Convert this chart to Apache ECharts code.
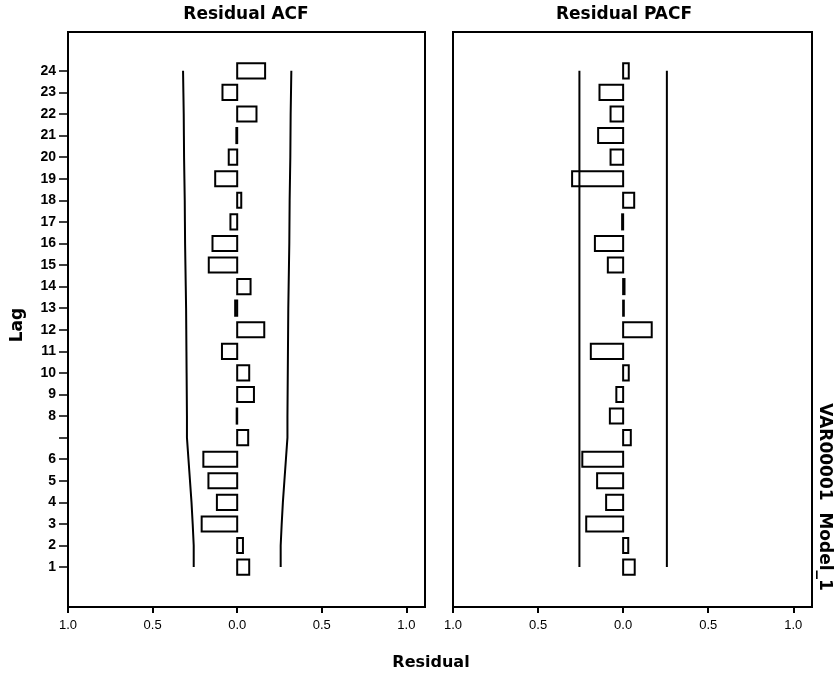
<!DOCTYPE html>
<html>
<head>
<meta charset="utf-8">
<script src="https://cdn.jsdelivr.net/npm/echarts@6/dist/echarts.min.js"></script>
<style>html,body{margin:0;padding:0;background:#fff}#c{width:838px;height:675px}</style>
</head>
<body>
<div id="c"></div>
<script>
// ---- data ----
const lags = [1,2,3,4,5,6,7,8,9,10,11,12,13,14,15,16,17,18,19,20,21,22,23,24];
const lagLabels = ['1','2','3','4','5','6','','8','9','10','11','12','13','14','15','16','17','18','19','20','21','22','23','24'];
const acf  = [0.071, 0.034, -0.21, -0.12, -0.17, -0.20, 0.065, -0.003, 0.099, 0.071, -0.09, 0.16, -0.012, 0.079, -0.168, -0.146, -0.04, 0.024, -0.13, -0.05, -0.005, 0.114, -0.087, 0.165];
const pacf = [0.068, 0.03, -0.217, -0.10, -0.153, -0.24, 0.045, -0.078, -0.04, 0.033, -0.19, 0.168, 0.004, 0.008, -0.09, -0.166, -0.006, 0.065, -0.30, -0.074, -0.147, -0.074, -0.139, 0.033];
const acfLimit  = [0.257, 0.257, 0.263, 0.270, 0.279, 0.288, 0.297, 0.297, 0.298, 0.299, 0.300, 0.301, 0.302, 0.304, 0.306, 0.308, 0.309, 0.310, 0.312, 0.314, 0.315, 0.316, 0.318, 0.320];
const pacfLimit = [0.257, 0.257, 0.257, 0.257, 0.257, 0.257, 0.257, 0.257, 0.257, 0.257, 0.257, 0.257, 0.257, 0.257, 0.257, 0.257, 0.257, 0.257, 0.257, 0.257, 0.257, 0.257, 0.257, 0.257];
const xTicks = [-1, -0.5, 0, 0.5, 1];
const xTickLabels = ['1.0', '0.5', '0.0', '0.5', '1.0'];

// ---- chart ----
const chart = echarts.init(document.getElementById('c'), null, {renderer: 'canvas'});
const FONT = 'Liberation Sans, Arial, sans-serif';
const WIDE = 'DejaVu Sans, sans-serif';

function renderBar(params, api) {
  const v = api.value(0), lag = api.value(1);
  const p0 = api.coord([0, lag]);
  const p1 = api.coord([v, lag]);
  const h = api.size([0, 1])[1] * 0.7;
  const x = Math.min(p0[0], p1[0]);
  const w = Math.max(Math.abs(p1[0] - p0[0]), 0.5);
  return {
    type: 'rect',
    shape: {x: x, y: p0[1] - h / 2, width: w, height: h},
    style: {fill: 'rgba(255,255,255,0)', stroke: '#000', lineWidth: 2}
  };
}

function xAxisCfg(idx) {
  return {
    gridIndex: idx, type: 'value', min: -1, max: 1.11, position: 'bottom',
    axisLine: {show: false, onZero: false},
    splitLine: {show: false},
    axisTick: {show: true, inside: false, length: 6, lineStyle: {color: '#000', width: 2}, customValues: xTicks},
    axisLabel: {
      show: true, margin: 12, color: '#000', fontFamily: FONT, fontSize: 13,
      customValues: xTicks,
      formatter: function (val) {
        const i = xTicks.indexOf(val);
        return i >= 0 ? xTickLabels[i] : '';
      }
    }
  };
}

function yAxisCfg(idx, showLabels) {
  return {
    gridIndex: idx, type: 'value', min: -0.85, max: 25.8, position: 'left',
    axisLine: {show: false, onZero: false},
    splitLine: {show: false},
    axisTick: {show: showLabels, length: 9, lineStyle: {color: '#000', width: 1.5}, customValues: lags},
    axisLabel: {
      show: showLabels, margin: 12, color: '#000', fontFamily: FONT, fontSize: 14, fontWeight: 'bold',
      customValues: lags,
      formatter: function (val) {
        const i = lags.indexOf(Math.round(val));
        return i >= 0 ? lagLabels[i] : '';
      }
    }
  };
}

const option = {
  backgroundColor: '#fff',
  animation: false,
  grid: [
    {left: 68, right: 413, top: 32, bottom: 68, show: true, borderColor: '#000', borderWidth: 2, backgroundColor: 'transparent'},
    {left: 453, right: 26, top: 32, bottom: 68, show: true, borderColor: '#000', borderWidth: 2, backgroundColor: 'transparent'}
  ],
  xAxis: [xAxisCfg(0), xAxisCfg(1)],
  yAxis: [yAxisCfg(0, true), yAxisCfg(1, false)],
  series: [
    {type: 'custom', xAxisIndex: 0, yAxisIndex: 0, renderItem: renderBar, encode: {x: 0, y: 1},
     data: acf.map((v, i) => [v, lags[i]]), z: 2},
    {type: 'custom', xAxisIndex: 1, yAxisIndex: 1, renderItem: renderBar, encode: {x: 0, y: 1},
     data: pacf.map((v, i) => [v, lags[i]]), z: 2},
    {type: 'line', xAxisIndex: 0, yAxisIndex: 0, symbol: 'none', lineStyle: {color: '#000', width: 2},
     data: acfLimit.map((v, i) => [-v, lags[i]]), z: 3},
    {type: 'line', xAxisIndex: 0, yAxisIndex: 0, symbol: 'none', lineStyle: {color: '#000', width: 2},
     data: acfLimit.map((v, i) => [v, lags[i]]), z: 3},
    {type: 'line', xAxisIndex: 1, yAxisIndex: 1, symbol: 'none', lineStyle: {color: '#000', width: 2},
     data: pacfLimit.map((v, i) => [-v, lags[i]]), z: 3},
    {type: 'line', xAxisIndex: 1, yAxisIndex: 1, symbol: 'none', lineStyle: {color: '#000', width: 2},
     data: pacfLimit.map((v, i) => [v, lags[i]]), z: 3}
  ],
  graphic: [
    {type: 'text', x: 246, y: 15, style: {text: 'Residual ACF', font: 'bold 17px ' + WIDE, fill: '#000', align: 'center', verticalAlign: 'middle'}},
    {type: 'text', x: 624, y: 15, style: {text: 'Residual PACF', font: 'bold 17px ' + WIDE, fill: '#000', align: 'center', verticalAlign: 'middle'}},
    {type: 'text', x: 431, y: 663, style: {text: 'Residual', font: 'bold 16px ' + WIDE, fill: '#000', align: 'center', verticalAlign: 'middle'}},
    {type: 'text', x: 18, y: 325, rotation: Math.PI / 2, style: {text: 'Lag', font: 'bold 17px ' + WIDE, fill: '#000', align: 'center', verticalAlign: 'middle'}},
    {type: 'text', x: 824, y: 497, rotation: -Math.PI / 2, style: {text: 'VAR00001  Model_1', font: 'bold 17px ' + WIDE, fill: '#000', align: 'center', verticalAlign: 'middle'}}
  ]
};
chart.setOption(option);
</script>
</body>
</html>
